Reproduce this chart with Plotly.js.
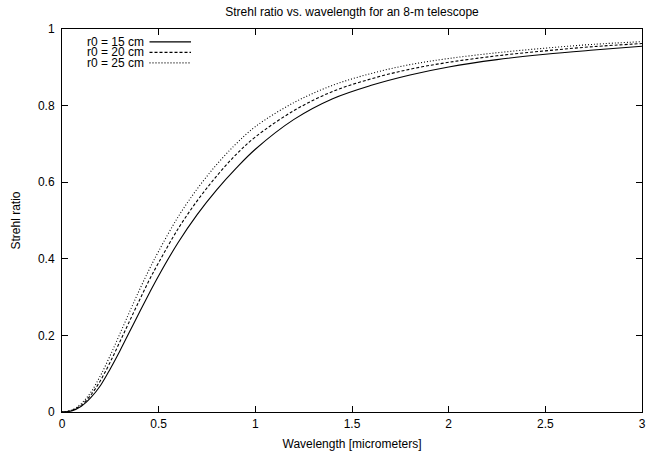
<!DOCTYPE html>
<html>
<head>
<meta charset="utf-8">
<script src="https://cdn.plot.ly/plotly-3.0.1.min.js"></script>
<style>html,body{margin:0;padding:0;background:#fff}#chart{width:666px;height:456px}</style>
</head>
<body>
<div id="chart"></div>
<script>
// Wavelength in micrometers
const wavelength = [0, 0.05, 0.1, 0.15, 0.2, 0.25, 0.3, 0.35, 0.4, 0.45, 0.5, 0.6, 0.7, 0.8, 0.9, 1.0, 1.2, 1.4, 1.6, 1.8, 2.0, 2.25, 2.5, 2.75, 3.0];
// Strehl ratio per seeing condition
const strehl_r15 = [0, 0.003, 0.015, 0.038, 0.07, 0.113, 0.16, 0.21, 0.26, 0.309, 0.356, 0.442, 0.516, 0.58, 0.636, 0.686, 0.764, 0.818, 0.853, 0.88, 0.901, 0.92, 0.934, 0.945, 0.955];
const strehl_r20 = [0, 0.004, 0.018, 0.045, 0.083, 0.131, 0.184, 0.238, 0.291, 0.343, 0.39, 0.478, 0.552, 0.616, 0.672, 0.718, 0.787, 0.837, 0.870, 0.895, 0.913, 0.93, 0.943, 0.954, 0.962];
const strehl_r25 = [0, 0.005, 0.022, 0.052, 0.096, 0.148, 0.205, 0.262, 0.318, 0.371, 0.42, 0.509, 0.583, 0.646, 0.70, 0.745, 0.808, 0.853, 0.884, 0.907, 0.923, 0.938, 0.95, 0.96, 0.967];
const seriesNames = ["r0 = 15 cm", "r0 = 20 cm", "r0 = 25 cm"];
const xTicks = [0, 0.5, 1, 1.5, 2, 2.5, 3];
const xTickText = ["0", "0.5", "1", "1.5", "2", "2.5", "3"];
const yTicks = [0, 0.2, 0.4, 0.6, 0.8, 1];
const yTickText = ["0", "0.2", "0.4", "0.6", "0.8", "1"];

const dashes = ["solid", "3px,2px", "1px,2px"];
const ys = [strehl_r15, strehl_r20, strehl_r25];
const FONT = "Liberation Sans, Arial, Helvetica, sans-serif";
const FS = 12;

const traces = ys.map((y, i) => ({
  x: wavelength, y: y, type: "scatter", mode: "lines", name: seriesNames[i],
  line: {color: "#000", width: 1.1, dash: dashes[i], shape: "spline", smoothing: 1},
  showlegend: false, hoverinfo: "skip"
}));

// legend (gnuplot style: text left, sample right)
const L = 62, R = 642, T = 29.3, B = 412.3;
const px = v => (v - L) / (R - L);
const py = v => (B - v) / (B - T);
const rowY = [42.2, 52.7, 63.2];
const annotations = seriesNames.map((n, i) => ({
  text: n, xref: "paper", yref: "paper", x: px(145.5), y: py(rowY[i]),
  xanchor: "right", yanchor: "middle", showarrow: false,
  font: {family: FONT, size: FS, color: "#000"}
}));
const shapes = dashes.map((d, i) => ({
  type: "line", xref: "paper", yref: "paper",
  x0: px(149.5), x1: px(191), y0: py(rowY[i]), y1: py(rowY[i]),
  line: {color: "#000", width: 1.1, dash: d}
}));

const axisCommon = {
  showline: true, mirror: "ticks", linecolor: "#000", linewidth: 1,
  ticks: "inside", ticklen: 6, tickcolor: "#000", tickwidth: 1,
  showgrid: false, zeroline: false,
  tickfont: {family: FONT, size: FS, color: "#000"}
};

const layout = {
  width: 666, height: 456,
  margin: {l: 62, r: 24, t: 29.3, b: 43.7},
  paper_bgcolor: "#fff", plot_bgcolor: "#fff",
  title: {text: "Strehl ratio vs. wavelength for an 8-m telescope", font: {family: FONT, size: FS, color: "#000"},
          x: px(352) * (580/666) + 62/666, xanchor: "center", y: 1 - 12/456, yanchor: "middle"},
  xaxis: Object.assign({}, axisCommon, {range: [0, 3], tickvals: xTicks, ticktext: xTickText,
    ticklabelstandoff: 1,
    title: {text: "Wavelength [micrometers]", font: {family: FONT, size: FS, color: "#000"}, standoff: 9}}),
  yaxis: Object.assign({}, axisCommon, {range: [0, 1], tickvals: yTicks, ticktext: yTickText,
    ticklabelstandoff: 4,
    title: {text: "Strehl ratio", font: {family: FONT, size: FS, color: "#000"}, standoff: 14}}),
  annotations: annotations, shapes: shapes
};

Plotly.newPlot("chart", traces, layout, {staticPlot: true, displayModeBar: false});
</script>
</body>
</html>
